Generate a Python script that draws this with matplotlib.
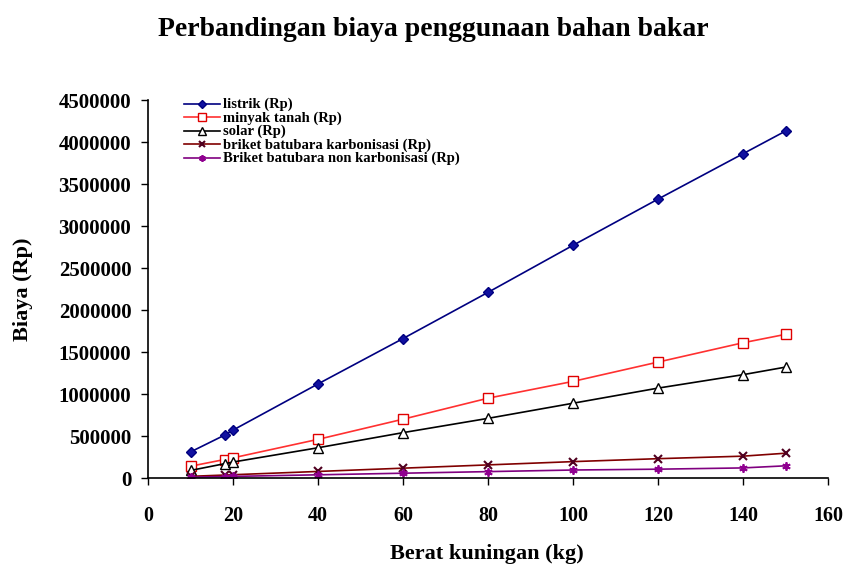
import matplotlib
matplotlib.use("Agg")
import matplotlib.pyplot as plt
from matplotlib.ticker import FuncFormatter

berat = [10, 18, 20, 40, 60, 80, 100, 120, 140, 150]
listrik = [310000, 510000, 570000, 1120000, 1660000, 2210000, 2770000, 3320000, 3860000, 4130000]
minyak_tanah = [140000, 220000, 240000, 460000, 700000, 950000, 1150000, 1380000, 1610000, 1710000]
solar = [90000, 170000, 190000, 360000, 540000, 710000, 890000, 1070000, 1230000, 1320000]
briket_karbon = [20000, 35000, 39000, 78000, 117000, 156000, 195000, 230000, 260000, 295000]
briket_non = [10000, 17000, 19000, 38000, 57000, 76000, 95000, 105000, 120000, 145000]

labels = ["listrik (Rp)", "minyak tanah (Rp)", "solar (Rp)",
          "briket batubara karbonisasi (Rp)", "Briket batubara non karbonisasi (Rp)"]

plt.rcParams['font.family'] = ['Liberation Serif', 'DejaVu Serif']
plt.rcParams['font.weight'] = 'bold'

fig = plt.figure(figsize=(8.48, 5.68), dpi=100)
ax = fig.add_axes([148/848, 90/568, 680/848, 378/568])

ax.plot(berat, listrik, color='#000080', lw=1.2, marker='D', ms=5.5,
        mfc='#1010a0', mec='#000080', label=labels[0])
ax.plot(berat, minyak_tanah, color='#ff3030', lw=1.2, marker='s', ms=7,
        mfc='white', mec='#e00000', label=labels[1])
ax.plot(berat, solar, color='#000000', lw=1.2, marker='^', ms=7,
        mfc='white', mec='#000000', label=labels[2])
ax.plot(berat, briket_karbon, color='#800000', lw=1.2, marker='x', ms=5.5,
        mew=1.5, mec='#500020', label=labels[3])
ax.plot(berat, briket_non, color='#800080', lw=1.2, marker=(6, 2, 0), ms=6,
        mew=1.3, mec='#900090', label=labels[4])

ax.set_xlim(0, 160)
ax.set_ylim(0, 4500000)
ax.set_xticks(range(0, 161, 20))
ax.set_yticks(range(0, 4500001, 500000))
ax.yaxis.set_major_formatter(FuncFormatter(lambda v, p: f"{int(round(v))}"))
ax.tick_params(axis='both', direction='out', length=5, width=1)
ax.tick_params(axis='x', pad=15, labelsize=14.5)
ax.tick_params(axis='y', pad=7, labelsize=15)
for s in ['top', 'right']:
    ax.spines[s].set_visible(False)
for s in ['left', 'bottom']:
    ax.spines[s].set_linewidth(1.2)

ax.set_xlabel("Berat kuningan (kg)", fontsize=16, fontweight='bold')
ax.xaxis.set_label_coords((487 - 148) / 680, -(544 - 478) / 378)
ax.set_ylabel("Biaya (Rp)", fontsize=16, fontweight='bold')
ax.yaxis.set_label_coords((33 - 148) / 680, 0.5)
fig.text(433 / 848, 1 - 30 / 568, "Perbandingan biaya penggunaan bahan bakar",
         ha='center', va='center', fontsize=20, fontweight='bold')

leg = ax.legend(loc='upper left', bbox_to_anchor=((184 - 148) / 680, 1 + 2 / 378),
                frameon=False, fontsize=10.5, handlelength=2.5, labelspacing=0.0,
                handleheight=0.5, handletextpad=0.2, borderaxespad=0, borderpad=0,
                markerscale=0.8)

fig.savefig("out.png", dpi=100)
